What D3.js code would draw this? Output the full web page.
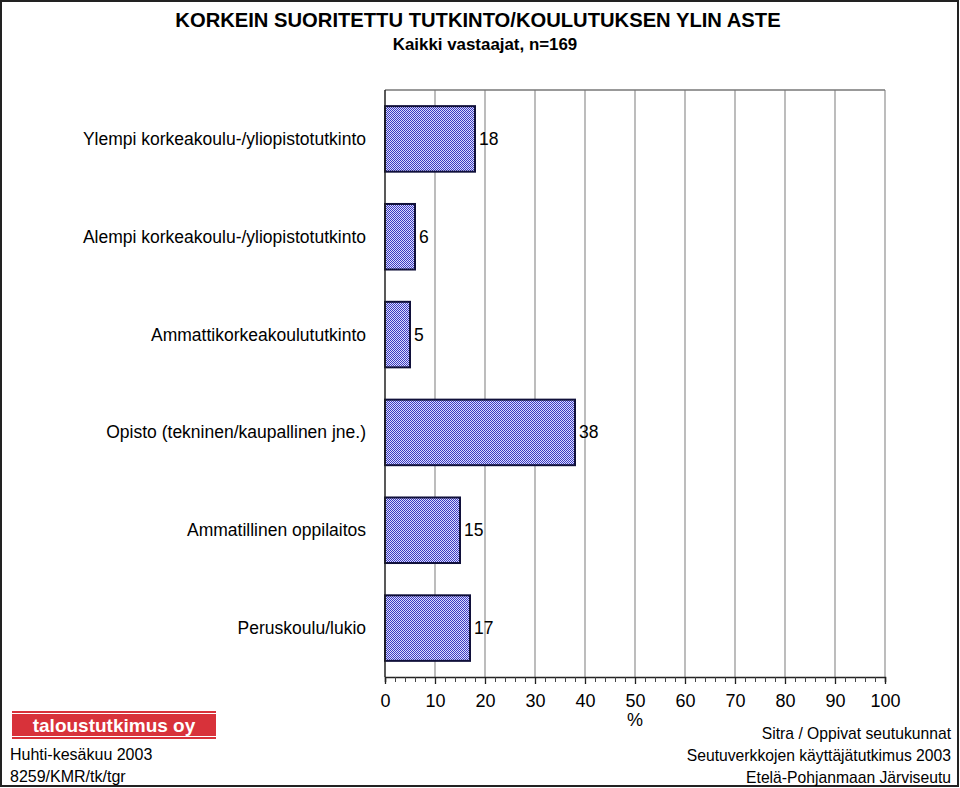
<!DOCTYPE html>
<html><head><meta charset="utf-8">
<script src="https://cdn.jsdelivr.net/npm/d3@7"></script>
<style>
html,body{margin:0;padding:0;background:#fff;}
svg{display:block;font-family:"Liberation Sans",Arial,sans-serif;}
</style></head>
<body><svg id="c" width="960" height="788"></svg>
<script>
const categories = ["Ylempi korkeakoulu-/yliopistotutkinto","Alempi korkeakoulu-/yliopistotutkinto","Ammattikorkeakoulututkinto","Opisto (tekninen/kaupallinen jne.)","Ammatillinen oppilaitos","Peruskoulu/lukio"];
const values = [18,6,5,38,15,17];
const tickValues = [0,10,20,30,40,50,60,70,80,90,100];
const title = "KORKEIN SUORITETTU TUTKINTO/KOULUTUKSEN YLIN ASTE";
const subtitle = "Kaikki vastaajat, n=169";
const footLeft = ["Huhti-kesäkuu 2003","8259/KMR/tk/tgr"];
const footRight = ["Sitra / Oppivat seutukunnat","Seutuverkkojen käyttäjätutkimus 2003","Etelä-Pohjanmaan Järviseutu"];

const svg = d3.select("#c");
const W=960,H=788;
svg.append("rect").attr("x",1).attr("y",1).attr("width",W-3).attr("height",H-3).attr("fill","#fff").attr("stroke","#222").attr("stroke-width",2);

const defs = svg.append("defs");
const pat = defs.append("pattern").attr("id","chk").attr("patternUnits","userSpaceOnUse").attr("width",2).attr("height",2);
pat.append("rect").attr("width",2).attr("height",2).attr("fill","#dcdcff");
pat.append("rect").attr("x",0).attr("y",0).attr("width",1).attr("height",1).attr("fill","#3c3cc0");
pat.append("rect").attr("x",1).attr("y",1).attr("width",1).attr("height",1).attr("fill","#3c3cc0");

const L=385,R=885,T=90,B=677;
const x = d3.scaleLinear().domain([0,100]).range([L,R]);
const y = d3.scaleBand().domain(categories).range([T,B]).paddingInner(0.33).paddingOuter(0.165);

svg.append("text").attr("x",478).attr("y",27).attr("text-anchor","middle").attr("font-weight","bold").attr("font-size",20.2).text(title);
svg.append("text").attr("x",485).attr("y",50).attr("text-anchor","middle").attr("font-weight","bold").attr("font-size",16.9).text(subtitle);

svg.append("g").selectAll("line").data(tickValues.slice(1)).join("line")
  .attr("x1",d=>x(d)).attr("x2",d=>x(d)).attr("y1",T).attr("y2",B)
  .attr("stroke","#999").attr("stroke-width",1.3);
svg.append("line").attr("x1",L).attr("x2",R).attr("y1",T).attr("y2",T).attr("stroke","#777").attr("stroke-width",1.5);

svg.append("g").selectAll("rect").data(values).join("rect")
  .attr("x",x(0)).attr("y",(d,i)=>y(categories[i])).attr("width",d=>x(d)-x(0)).attr("height",y.bandwidth())
  .attr("fill","url(#chk)").attr("stroke","#10103a").attr("stroke-width",2);

svg.append("g").selectAll("text").data(values).join("text")
  .attr("x",d=>x(d)+4).attr("y",(d,i)=>y(categories[i])+y.bandwidth()/2+6)
  .attr("font-size",17.5).text(d=>d);

svg.append("g").selectAll("text").data(categories).join("text")
  .attr("x",366).attr("y",d=>y(d)+y.bandwidth()/2+6).attr("text-anchor","end")
  .attr("font-size",17.5).text(d=>d);

svg.append("line").attr("x1",L).attr("x2",L).attr("y1",T).attr("y2",B).attr("stroke","#222").attr("stroke-width",1.5);

const ax = svg.append("g").attr("transform",`translate(0,${B})`);
ax.call(d3.axisBottom(x).tickValues(d3.range(0,101,2)).tickSize(5).tickFormat(""));
ax.select(".domain").attr("stroke","#222").attr("stroke-width",1.5);
ax.selectAll(".tick line").attr("stroke","#444");
const ax2 = svg.append("g").attr("transform",`translate(0,${B})`);
ax2.call(d3.axisBottom(x).tickValues(tickValues).tickSize(7).tickPadding(8));
ax2.select(".domain").remove();
ax2.selectAll(".tick line").attr("stroke","#222").attr("stroke-width",1.3);
ax2.selectAll(".tick text").attr("font-size",18).attr("font-family","Liberation Sans,Arial,sans-serif").attr("fill","#000").attr("dy","0").attr("y",30);
svg.append("text").attr("x",x(50)).attr("y",726).attr("text-anchor","middle").attr("font-size",18).text("%");

svg.append("rect").attr("x",12).attr("y",711).attr("width",204).attr("height",2).attr("fill","#d8323a");
svg.append("rect").attr("x",12).attr("y",714).attr("width",204).attr("height",22).attr("fill","#d8323a");
svg.append("rect").attr("x",12).attr("y",737).attr("width",204).attr("height",2).attr("fill","#d8323a");
svg.append("text").attr("x",114).attr("y",732).attr("text-anchor","middle").attr("fill","#fff").attr("font-weight","bold").attr("font-size",19).text("taloustutkimus oy");

svg.append("g").selectAll("text").data(footLeft).join("text")
  .attr("x",10).attr("y",(d,i)=>760+i*22).attr("font-size",16).text(d=>d);
svg.append("g").selectAll("text").data(footRight).join("text")
  .attr("x",951).attr("y",(d,i)=>739+i*22).attr("text-anchor","end").attr("font-size",15.7).text(d=>d);
</script></body></html>
